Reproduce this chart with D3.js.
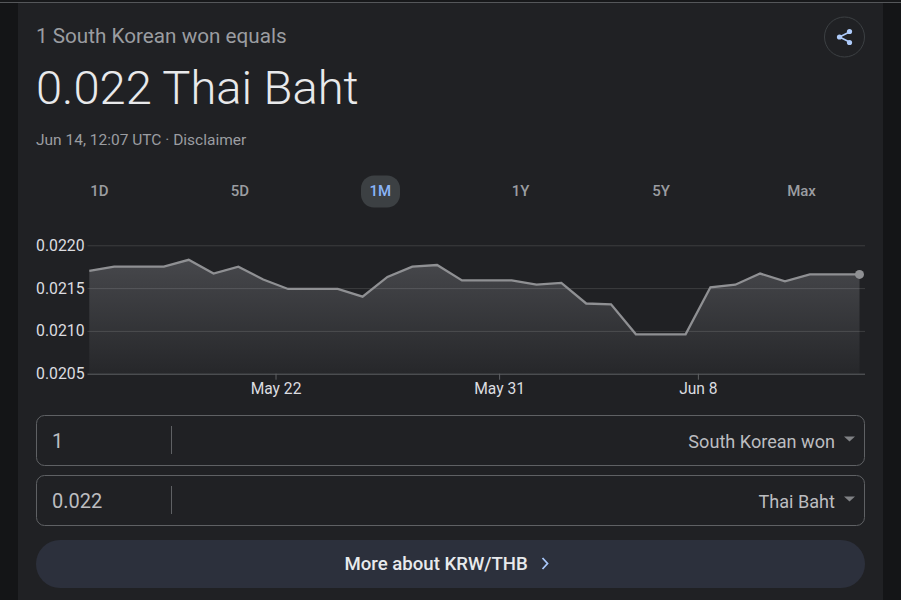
<!DOCTYPE html>
<html>
<head>
<meta charset="utf-8">
<title>KRW/THB</title>
<script src="https://cdn.jsdelivr.net/npm/d3@7/dist/d3.min.js"></script>
<style>
html,body{margin:0;padding:0;background:#151618;overflow:hidden}
svg{display:block}
text{font-family:Roboto,sans-serif}
</style>
</head>
<body>
<svg id="card" width="901" height="600"></svg>
<script>
// One month of daily KRW/THB rates, one reading per day at 12:07 UTC
const startDay = "2022-05-14T12:07:00Z";
const rates = [
  0.02170, 0.02175, 0.02175, 0.02175, 0.02183, 0.02167, 0.02175, 0.02160,
  0.02149, 0.02149, 0.02149, 0.02140, 0.02163, 0.02175, 0.02177, 0.02159,
  0.02159, 0.02159, 0.02154, 0.02156, 0.02132, 0.02131, 0.02096, 0.02096,
  0.02096, 0.02151, 0.02154, 0.02167, 0.02158, 0.02166, 0.02166, 0.02166
];
const yTicks = [0.0205, 0.0210, 0.0215, 0.0220];
const xTicks = ["2022-05-22T00:00:00Z", "2022-05-31T00:00:00Z", "2022-06-08T00:00:00Z"];
const ranges = ["1D", "5D", "1M", "1Y", "5Y", "Max"];
const activeRange = "1M";
const currencies = ["South Korean won", "Thai Baht"];
const amounts = ["1", "0.022"];

const svg = d3.select("#card");

// Page frame and card
svg.append("rect").attr("width", 901).attr("height", 600).attr("fill", "#141517");
svg.append("rect").attr("x", 18).attr("width", 865).attr("height", 600).attr("fill", "#202124");
svg.append("rect").attr("width", 901).attr("height", 2).attr("fill", "#17181a");
svg.append("rect").attr("y", 2).attr("width", 901).attr("height", 1).attr("fill", "#55575a");

// Header
svg.append("text").attr("x", 36).attr("y", 42.5).attr("font-size", 20.7)
  .attr("fill", "#9b9da1").text("1 South Korean won equals");
svg.append("text").attr("x", 36).attr("y", 104).attr("font-size", 47.1).attr("font-weight", 300)
  .attr("fill", "#e8e9eb").text("0.022 Thai Baht");
svg.append("text").attr("x", 36).attr("y", 145).attr("font-size", 15.5)
  .attr("fill", "#9b9da1").text("Jun 14, 12:07 UTC · Disclaimer");

// Share button
const share = svg.append("g").attr("transform", "translate(844.5,37)");
share.append("circle").attr("r", 20).attr("fill", "none").attr("stroke", "#3c4043");
share.append("path").attr("d", "M5-5L-5 0L5 5").attr("fill", "none")
  .attr("stroke", "#aecbfa").attr("stroke-width", 1.6);
share.selectAll("circle.node").data([[5, -5.5], [-5, 0], [5, 5.5]]).join("circle")
  .attr("class", "node").attr("cx", d => d[0]).attr("cy", d => d[1]).attr("r", 2.6)
  .attr("fill", "#aecbfa");

// Range selector
const rangeX = d3.scalePoint().domain(ranges).range([99.5, 801.5]);
svg.append("rect").attr("x", 361).attr("y", 175.5).attr("width", 39).attr("height", 32)
  .attr("rx", 13).attr("fill", "#3c4043");
svg.append("g").selectAll("text").data(ranges).join("text")
  .attr("x", d => rangeX(d)).attr("y", 196).attr("text-anchor", "middle")
  .attr("font-size", 15).attr("font-weight", 500)
  .attr("fill", d => d === activeRange ? "#8ab4f8" : "#9b9da1").text(d => d);

// Chart scales
const series = rates.map((v, i) => ({
  t: d3.utcDay.offset(new Date(startDay), i), v
}));
const x = d3.scaleUtc()
  .domain([series[0].t, series[series.length - 1].t])
  .range([89.3, 859.5]);
const y = d3.scaleLinear().domain([0.0205, 0.0220]).range([373.7, 245.3]);

const defs = svg.append("defs");
const grad = defs.append("linearGradient").attr("id", "areaFade")
  .attr("gradientUnits", "userSpaceOnUse")
  .attr("x1", 0).attr("x2", 0).attr("y1", y(0.0218)).attr("y2", y(0.0205));
grad.append("stop").attr("offset", 0).attr("stop-color", "#46474b");
grad.append("stop").attr("offset", 1).attr("stop-color", "#26272a");

// Filled area under the rate line
svg.append("path").datum(series)
  .attr("fill", "url(#areaFade)")
  .attr("d", d3.area().x(d => x(d.t)).y0(y(0.0205)).y1(d => y(d.v)));

// Value axis with gridlines
const yAxis = svg.append("g").attr("transform", "translate(84.5,0)")
  .call(d3.axisLeft(y).tickValues(yTicks).tickFormat(d3.format(".4f")).tickSize(0).tickPadding(0));
yAxis.select(".domain").remove();
yAxis.selectAll(".tick text")
  .attr("x", -48.5).attr("dy", "0.32em").attr("text-anchor", "start")
  .attr("font-size", 15.8).attr("font-family", "Roboto,sans-serif").attr("fill", "#dcdde0");
yAxis.selectAll(".tick line")
  .attr("x1", 3).attr("x2", 780.5)
  .attr("stroke", d => d === 0.0205 ? "#5f6164" : "#ffffff")
  .attr("stroke-opacity", d => d === 0.0205 ? 1 : 0.13);

// Date axis
const xAxis = svg.append("g").attr("transform", "translate(0,373.7)")
  .call(d3.axisBottom(x).tickValues(xTicks.map(d => new Date(d)))
    .tickFormat(d3.utcFormat("%b %-d")).tickSize(6).tickPadding(3));
xAxis.select(".domain").remove();
xAxis.selectAll(".tick line").attr("stroke", "#5f6164");
xAxis.selectAll(".tick text")
  .attr("font-size", 15.6).attr("font-family", "Roboto,sans-serif").attr("fill", "#dcdde0");

// Rate line and latest-value marker
svg.append("path").datum(series)
  .attr("fill", "none").attr("stroke", "#8f9093").attr("stroke-width", 2.3)
  .attr("d", d3.line().x(d => x(d.t)).y(d => y(d.v)));
const last = series[series.length - 1];
svg.append("circle").attr("cx", x(last.t)).attr("cy", y(last.v)).attr("r", 4.5)
  .attr("fill", "#8f9093");

// Converter boxes
const boxY = d3.scalePoint().domain(currencies).range([415, 475]);
const boxes = svg.append("g").selectAll("g").data(currencies).join("g")
  .attr("transform", d => `translate(0,${boxY(d) + 0.5})`);
boxes.append("rect").attr("x", 36.5).attr("width", 828).attr("height", 50).attr("rx", 8)
  .attr("fill", "none").attr("stroke", "#5f6164");
boxes.append("line").attr("x1", 171.5).attr("x2", 171.5).attr("y1", 10.5).attr("y2", 38.5)
  .attr("stroke", "#5f6164");
boxes.append("text").attr("x", 52).attr("y", 32).attr("font-size", 20)
  .attr("fill", "#bcbdc0").text((d, i) => amounts[i]);
boxes.append("text").attr("x", 835).attr("y", 32).attr("text-anchor", "end")
  .attr("font-size", 18.1).attr("fill", "#bcbdc0").text(d => d);
boxes.append("path").attr("d", "M844 21h11l-5.5 5z").attr("fill", "#808285");

// Link button
svg.append("rect").attr("x", 36).attr("y", 540).attr("width", 829).attr("height", 48)
  .attr("rx", 24).attr("fill", "#2c303c");
svg.append("text").attr("x", 344.5).attr("y", 569.5).attr("font-size", 18.6).attr("font-weight", 500)
  .attr("fill", "#e8eaed").text("More about KRW/THB");
svg.append("path").attr("d", "M542.5 558l5 5.5l-5 5.5").attr("fill", "none")
  .attr("stroke", "#a8c7fa").attr("stroke-width", 1.8);
</script>
</body>
</html>
